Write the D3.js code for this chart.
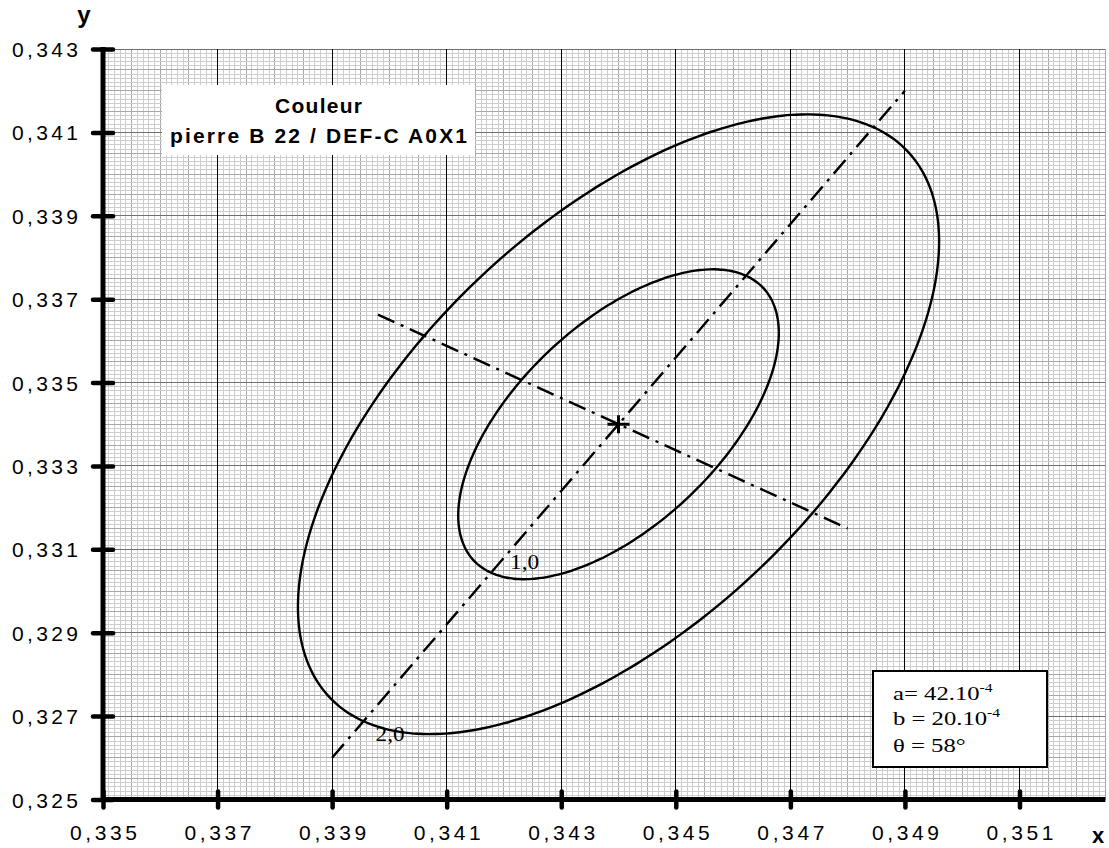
<!DOCTYPE html>
<html>
<head>
<meta charset="utf-8">
<script src="https://cdn.jsdelivr.net/npm/d3@7"></script>
<style>
  html, body { margin: 0; padding: 0; background: #fff; }
  svg { display: block; }
</style>
</head>
<body>
<svg id="chart" width="1109" height="848"></svg>
<script>
// ---------- data ----------
const xTicks = [0.335, 0.337, 0.339, 0.341, 0.343, 0.345, 0.347, 0.349, 0.351];
const yTicks = [0.325, 0.327, 0.329, 0.331, 0.333, 0.335, 0.337, 0.339, 0.341, 0.343];
const xDomain = [0.335, 0.3525];
const yDomain = [0.325, 0.343];
const center = [0.344, 0.334];
const semiAxisA = 42e-4;
const semiAxisB = 20e-4;
const thetaDeg = 58;
const ellipseLevels = [1.0, 2.0];
const ellipseLabels = ["1,0", "2,0"];
const majorAxisLine = [[0.339, 0.326], [0.349, 0.342]];
const minorAxisLine = [[0.3398, 0.33663], [0.348, 0.3315]];
const titleLines = ["Couleur", "pierre B 22 / DEF-C A0X1"];
const paramLines = [["a= 42.10", "-4"], ["b = 20.10", "-4"], ["θ = 58°", ""]];

// ---------- setup ----------
const svg = d3.select("#chart");
const x = d3.scaleLinear().domain(xDomain).range([103, 1105.4]);
const y = d3.scaleLinear().domain(yDomain).range([799.5, 49]);
const fmt = d3.formatLocale({decimal: ",", thousands: " ", grouping: [3], currency: ["", ""]}).format(".3f");

// grid
const grid = svg.append("g").attr("shape-rendering", "crispEdges");
const xMinor = d3.range(0, 176).map(i => xDomain[0] + i * 0.0001);
const yMinor = d3.range(0, 181).map(i => yDomain[0] + i * 0.0001);
grid.selectAll("line.vmin").data(xMinor).join("line")
  .attr("x1", d => x(d)).attr("x2", d => x(d))
  .attr("y1", y(yDomain[1])).attr("y2", y(yDomain[0]))
  .attr("stroke", (d, i) => i % 5 === 0 ? "#a8a8a8" : "#cdcdcd").attr("stroke-width", 1);
grid.selectAll("line.hmin").data(yMinor).join("line")
  .attr("y1", d => y(d)).attr("y2", d => y(d))
  .attr("x1", x(xDomain[0])).attr("x2", x(xDomain[1]))
  .attr("stroke", (d, i) => i % 5 === 0 ? "#a8a8a8" : "#cdcdcd").attr("stroke-width", 1);
grid.selectAll("line.hmaj").data(yTicks).join("line")
  .attr("y1", d => y(d)).attr("y2", d => y(d))
  .attr("x1", x(xDomain[0])).attr("x2", x(xDomain[1]))
  .attr("stroke", "#707070").attr("stroke-width", 1);
grid.selectAll("line.vmaj").data(xTicks).join("line")
  .attr("x1", d => x(d)).attr("x2", d => x(d))
  .attr("y1", y(yDomain[1])).attr("y2", y(yDomain[0]))
  .attr("stroke", "#000").attr("stroke-width", 1);

// title box
const tb = svg.append("g");
tb.append("rect").attr("x", 162).attr("y", 85).attr("width", 313).attr("height", 70).attr("fill", "#fff");
tb.selectAll("text").data(titleLines).join("text")
  .attr("x", 318.5).attr("y", (d, i) => i === 0 ? 113 : 143)
  .attr("text-anchor", "middle")
  .attr("font-family", "Liberation Sans, Arial, sans-serif")
  .attr("font-weight", "bold").attr("font-size", 21)
  .attr("textLength", (d, i) => i === 0 ? 87 : 297)
  .attr("lengthAdjust", "spacing")
  .text(d => d);

// parameter box
const pb = svg.append("g");
pb.append("rect").attr("x", 873).attr("y", 671).attr("width", 174).attr("height", 96)
  .attr("fill", "#fff").attr("stroke", "#000").attr("stroke-width", 2);
const pt = pb.selectAll("text").data(paramLines).join("text")
  .attr("transform", (d, i) => `translate(893,${[700, 725, 752][i]}) scale(1.3,1)`)
  .attr("font-family", "Liberation Serif, Times New Roman, serif")
  .attr("font-size", 19);
pt.append("tspan").text(d => d[0]);
pt.append("tspan").attr("font-size", 12).attr("dy", -8).text(d => d[1]);

// ellipses
const th = thetaDeg * Math.PI / 180;
const u = [Math.cos(th), Math.sin(th)];
const v = [-Math.sin(th), Math.cos(th)];
const angles = d3.range(0, 360, 2).map(a => a * Math.PI / 180);
const line = d3.line().x(d => x(d[0])).y(d => y(d[1])).curve(d3.curveCardinalClosed);
ellipseLevels.forEach(k => {
  const pts = angles.map(t => [
    center[0] + k * (semiAxisA * Math.cos(t) * u[0] + semiAxisB * Math.sin(t) * v[0]),
    center[1] + k * (semiAxisA * Math.cos(t) * u[1] + semiAxisB * Math.sin(t) * v[1])
  ]);
  svg.append("path").attr("d", line(pts)).attr("fill", "none")
    .attr("stroke", "#000").attr("stroke-width", 2.4);
});

// axis lines (dash-dot)
const dashLine = d3.line().x(d => x(d[0])).y(d => y(d[1]));
[majorAxisLine, minorAxisLine].forEach(l => {
  svg.append("path").attr("d", dashLine(l)).attr("fill", "none")
    .attr("stroke", "#000").attr("stroke-width", 2.4)
    .attr("stroke-dasharray", "18,7,3,7");
});

// center cross
const cx = x(center[0]), cy = y(center[1]);
svg.append("line").attr("x1", cx - 11).attr("x2", cx + 11).attr("y1", cy).attr("y2", cy)
  .attr("stroke", "#000").attr("stroke-width", 3);
svg.append("line").attr("x1", cx).attr("x2", cx).attr("y1", cy - 9).attr("y2", cy + 9)
  .attr("stroke", "#000").attr("stroke-width", 3);

// ellipse labels (anchored on crossing of ellipse with major axis)
const labelOffsets = [[19, -4], [12, 20]];
ellipseLevels.forEach((k, i) => {
  const px = center[0] - k * semiAxisA * u[0];
  const py = center[1] - k * semiAxisA * u[1];
  svg.append("text").attr("x", x(px) + labelOffsets[i][0]).attr("y", y(py) + labelOffsets[i][1])
    .attr("font-family", "Liberation Serif, Times New Roman, serif").attr("font-size", 22)
    .attr("textLength", 29).attr("lengthAdjust", "spacingAndGlyphs")
    .text(ellipseLabels[i]);
});

// axes
const xAxis = svg.append("g").attr("transform", `translate(0,${y(yDomain[0])})`)
  .call(d3.axisBottom(x).tickValues(xTicks).tickFormat(fmt).tickSizeOuter(0).tickSizeInner(8).tickPadding(24));
xAxis.select(".domain").attr("stroke-width", 5).attr("d", `M${x(xDomain[0]) - 2},0H${x(xDomain[1])}`);
xAxis.selectAll(".tick line").attr("y1", -8).attr("y2", 8).attr("stroke-width", 4.5).attr("stroke-linecap", "round");
xAxis.selectAll(".tick text")
  .attr("font-family", "Liberation Sans, Arial, sans-serif").attr("font-size", 21).attr("fill", "#000")
  .attr("dy", 0).attr("y", 40)
  .attr("textLength", 67).attr("lengthAdjust", "spacing");

const yAxis = svg.append("g").attr("transform", `translate(${x(xDomain[0])},0)`)
  .call(d3.axisLeft(y).tickValues(yTicks).tickFormat(fmt).tickSizeOuter(0).tickSizeInner(10));
yAxis.select(".domain").attr("stroke-width", 5).attr("d", `M0,${y(yDomain[0]) + 2}V${y(yDomain[1]) - 2}`);
yAxis.selectAll(".tick line").attr("x1", -10).attr("x2", 10).attr("stroke-width", 4.5).attr("stroke-linecap", "round");
yAxis.selectAll(".tick text")
  .attr("font-family", "Liberation Sans, Arial, sans-serif").attr("font-size", 21).attr("fill", "#000")
  .attr("x", -25).attr("dy", "0.36em")
  .attr("textLength", 66).attr("lengthAdjust", "spacing");

// axis titles
svg.append("text").attr("x", 84).attr("y", 23).attr("text-anchor", "middle")
  .attr("font-family", "Liberation Sans, Arial, sans-serif").attr("font-weight", "bold").attr("font-size", 24)
  .text("y");
svg.append("text").attr("x", 1098).attr("y", 843).attr("text-anchor", "middle")
  .attr("font-family", "Liberation Sans, Arial, sans-serif").attr("font-weight", "bold").attr("font-size", 22)
  .text("x");
</script>
</body>
</html>
